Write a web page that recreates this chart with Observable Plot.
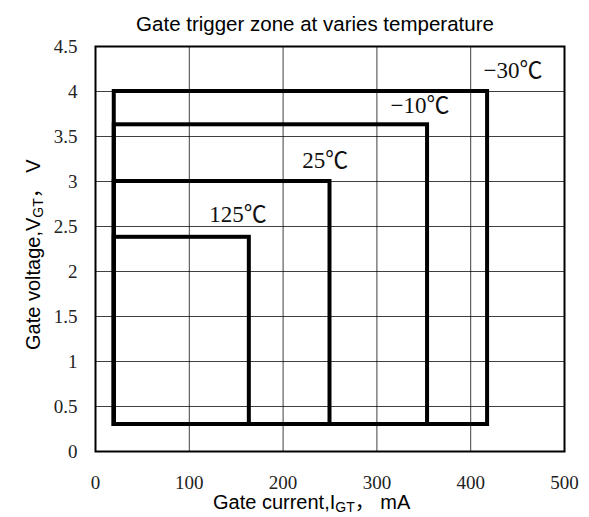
<!DOCTYPE html>
<html><head><meta charset="utf-8">
<script src="https://cdn.jsdelivr.net/npm/d3@7"></script>
<script src="https://cdn.jsdelivr.net/npm/@observablehq/plot@0.6"></script>
<style>body{margin:0;background:#fff} #chart{width:589px;height:517px}</style>
</head><body><div id="chart"></div>
<script>
const temps = ["−30℃", "−10℃", "25℃", "125℃"];
const iMin = [20, 20, 20, 20];
const iMax = [418, 354, 250, 164];
const vMin = [0.3, 0.3, 0.3, 0.3];
const vMax = [4.0, 3.63, 3.0, 2.38];
const labelI = [445, 346, 245, 152];
const labelV = [4.23, 3.84, 3.23, 2.63];
const xTicks = [0, 100, 200, 300, 400, 500];
const yTicks = [0, 0.5, 1, 1.5, 2, 2.5, 3, 3.5, 4, 4.5];
const yTickLabels = ["0", "0.5", "1", "1.5", "2", "2.5", "3", "3.5", "4", "4.5"];
const title = "Gate trigger zone at varies temperature";

const data = temps.map((t, i) => ({t, x1: iMin[i], x2: iMax[i], y1: vMin[i], y2: vMax[i], lx: labelI[i], ly: labelV[i]}));
const serif = "'Liberation Serif', 'Noto Sans CJK SC', serif";
const sans = "'Liberation Sans', 'Noto Sans CJK SC', Arial, sans-serif";

const chart = Plot.plot({
  width: 589, height: 517,
  marginLeft: 95, marginRight: 25, marginTop: 46, marginBottom: 66,
  x: {domain: [0, 500]},
  y: {domain: [0, 4.5]},
  style: {background: "#fff"},
  marks: [
    Plot.gridX(xTicks.slice(1, -1), {stroke: "#000", strokeOpacity: 0.75, strokeWidth: 1}),
    Plot.gridY(yTicks.slice(1, -1), {stroke: "#000", strokeOpacity: 0.75, strokeWidth: 1}),
    Plot.rect(data, {x1: "x1", x2: "x2", y1: "y1", y2: "y2", fill: "none", stroke: "#000", strokeWidth: 4}),
    Plot.frame({stroke: "#000", strokeWidth: 2}),
    Plot.axisX(xTicks, {tickSize: 0, tickPadding: 24, fontSize: 19, fontFamily: serif, fill: "#222", label: null}),
    Plot.axisY(yTicks, {tickSize: 0, tickPadding: 18, fontSize: 19, fontFamily: serif, fill: "#222", label: null,
      tickFormat: (d) => yTickLabels[yTicks.indexOf(d)]}),
    Plot.text(data, {x: "lx", y: "ly", text: "t", fontSize: 23, fontFamily: serif, fill: "#111"})
  ]
});
document.getElementById("chart").appendChild(chart);

const svg = d3.select(chart);
svg.append("text").attr("x", 315).attr("y", 31).attr("text-anchor", "middle")
  .attr("font-family", sans).attr("font-size", 20.5).attr("fill", "#000").text(title);

const xl = svg.append("text").attr("x", 213).attr("y", 509).attr("text-anchor", "start")
  .attr("font-family", sans).attr("font-size", 20).attr("fill", "#000");
xl.append("tspan").text("Gate current,I");
xl.append("tspan").attr("font-size", 14).attr("dy", 3).text("GT");
xl.append("tspan").attr("dy", -3).text("， mA");

const yl = svg.append("text").attr("transform", "translate(40,350) rotate(-90)").attr("text-anchor", "start")
  .attr("font-family", sans).attr("font-size", 20).attr("fill", "#000");
yl.append("tspan").text("Gate voltage,V");
yl.append("tspan").attr("font-size", 14).attr("dy", 3).text("GT");
yl.append("tspan").attr("dy", -3).text("， V");
</script>
</body></html>
